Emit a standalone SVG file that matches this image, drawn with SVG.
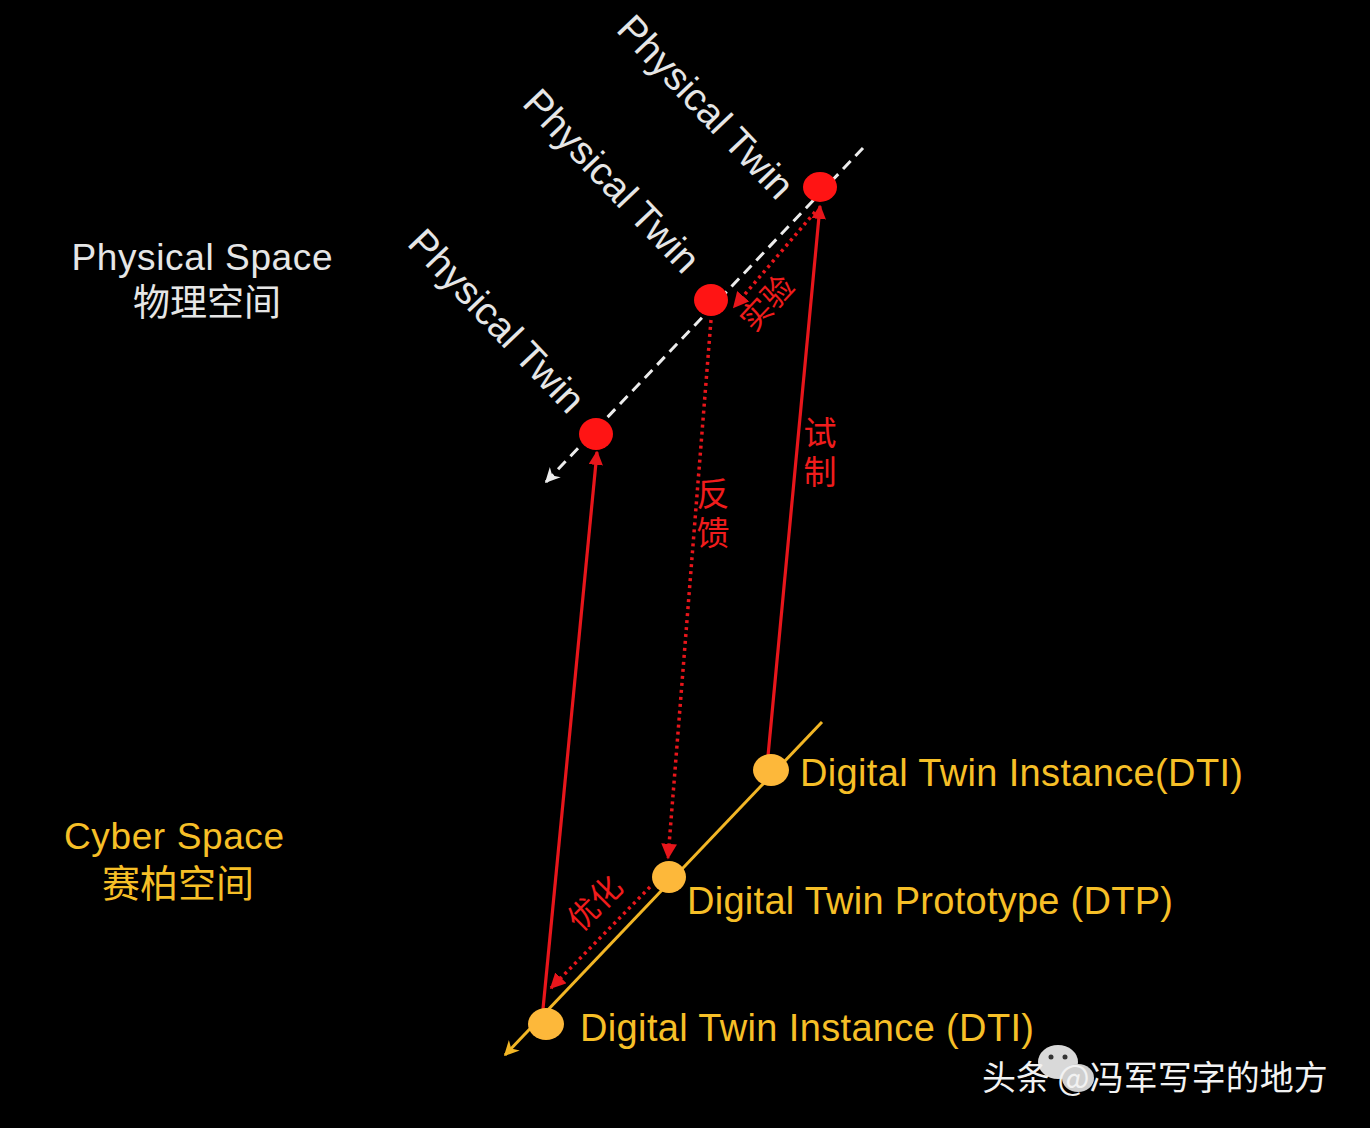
<svg xmlns="http://www.w3.org/2000/svg" width="1370" height="1128" viewBox="0 0 1370 1128">
<defs>
<style>
.lat{font-family:"Liberation Sans",Arial,sans-serif}
.cjk{font-family:"Noto Sans CJK SC","Liberation Sans",sans-serif}
.w{fill:#e6e6e6}
.y{fill:#f6bf27}
.r{fill:#f01c1c}
.pt{font-size:39px}
.dt{font-size:38px}
.vt{writing-mode:vertical-rl;font-size:33px;letter-spacing:6px}
.red{stroke:#e8161b;stroke-width:3.2;fill:none}
.dot{stroke:#e8161b;stroke-width:3.5;fill:none;stroke-dasharray:3 4}
</style>
<marker id="aw" viewBox="0 0 10 10" refX="9" refY="5" markerWidth="5" markerHeight="5" orient="auto" markerUnits="strokeWidth"><path d="M0,0 L10,5 L0,10 L3,5 z" fill="#ececec"/></marker>
<marker id="ay" viewBox="0 0 10 10" refX="9" refY="5" markerWidth="5" markerHeight="5" orient="auto" markerUnits="strokeWidth"><path d="M0,0 L10,5 L0,10 L3,5 z" fill="#f2b625"/></marker>
<marker id="ar" viewBox="0 0 10 10" refX="9" refY="5" markerWidth="4.5" markerHeight="4.5" orient="auto" markerUnits="strokeWidth"><path d="M0,0 L10,5 L0,10 z" fill="#e8161b"/></marker>
</defs>
<rect width="1370" height="1128" fill="#000"/>

<g id="space-labels">
<text class="lat w" x="202" y="270" font-size="37" text-anchor="middle" textLength="261">Physical Space</text>
<text class="cjk w" x="207" y="316" font-size="37" text-anchor="middle">物理空间</text>
<text class="lat y" x="174" y="849" font-size="37" text-anchor="middle" textLength="220">Cyber Space</text>
<text class="cjk y" x="178" y="897" font-size="38" text-anchor="middle">赛柏空间</text>
</g>

<g id="connectors">
<line x1="863" y1="148" x2="546" y2="482" stroke="#ececec" stroke-width="3" stroke-dasharray="11 7" marker-end="url(#aw)"/>
<line x1="822" y1="722" x2="505" y2="1055" stroke="#f2b625" stroke-width="3" marker-end="url(#ay)"/>
<line class="red" x1="768" y1="756" x2="820" y2="206" marker-end="url(#ar)"/>
<line class="red" x1="543" y1="1009" x2="597" y2="452" marker-end="url(#ar)"/>
<line class="dot" x1="711" y1="320" x2="668" y2="858" marker-end="url(#ar)"/>
<line class="dot" x1="815" y1="212" x2="734" y2="307" marker-end="url(#ar)"/>
<line class="dot" x1="650" y1="887" x2="551" y2="988" marker-end="url(#ar)"/>
</g>

<g id="pt1"><ellipse cx="820" cy="187" rx="17" ry="15" fill="#ff1414"/>
<text class="lat w pt" transform="translate(696,116) rotate(46.5)" text-anchor="middle">Physical Twin</text></g>
<g id="pt2"><ellipse cx="711" cy="300" rx="17" ry="16" fill="#ff1414"/>
<text class="lat w pt" transform="translate(602,190) rotate(46.5)" text-anchor="middle">Physical Twin</text></g>
<g id="pt3"><ellipse cx="596" cy="434" rx="17" ry="16" fill="#ff1414"/>
<text class="lat w pt" transform="translate(487,330) rotate(46.5)" text-anchor="middle">Physical Twin</text></g>

<g id="dti-top"><ellipse cx="771" cy="770" rx="18" ry="16" fill="#fdb83a"/>
<text class="lat y dt" x="800" y="786" textLength="443">Digital Twin Instance(DTI)</text></g>
<g id="dtp"><ellipse cx="669" cy="877" rx="17" ry="16" fill="#fdb83a"/>
<text class="lat y dt" x="687" y="914" textLength="486">Digital Twin Prototype (DTP)</text></g>
<g id="dti-bottom"><ellipse cx="546" cy="1024" rx="18" ry="16" fill="#fdb83a"/>
<text class="lat y dt" x="580" y="1041" textLength="454">Digital Twin Instance (DTI)</text></g>

<g id="edge-labels" class="cjk r">
<text x="767" y="314" font-size="31" text-anchor="middle" transform="rotate(-47 767 303)">实验</text>
<text class="vt" x="820" y="416">试制</text>
<text class="vt" x="713" y="477">反馈</text>
<text x="595" y="914" font-size="31" text-anchor="middle" transform="rotate(-45 595 903)">优化</text>
</g>

<g id="watermark">
<ellipse cx="1058" cy="1062" rx="20" ry="17" fill="#d9d9d9"/>
<ellipse cx="1078" cy="1078" rx="16" ry="14" fill="#cfcfcf"/>
<circle cx="1051" cy="1057" r="2.5" fill="#333"/>
<circle cx="1065" cy="1057" r="2.5" fill="#333"/>
<text class="cjk" x="982" y="1090" font-size="34" fill="#f2f2f2">头条 @冯军写字的地方</text>
</g>
</svg>
